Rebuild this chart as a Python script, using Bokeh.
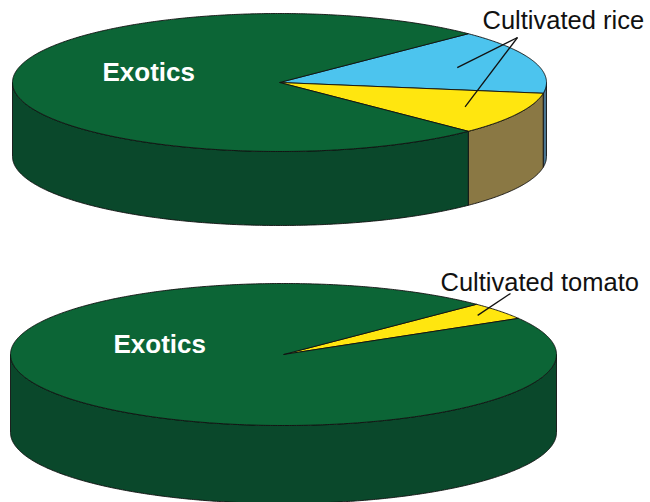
import numpy as np
from bokeh.plotting import figure
from bokeh.models import Range1d
from bokeh.embed import file_html
from bokeh.resources import INLINE
from bokeh.core.properties import value

# ---------------- data ----------------
rice_categories = ["Cultivated rice (A)", "Cultivated rice (B)", "Exotics"]
rice_shares = [15, 10, 75]
rice_top_colors = ["#4cc4ee", "#ffe60f", "#0c6536"]
rice_side_colors = ["#4a7590", "#8a7844", "#0a482b"]

tomato_categories = ["Cultivated tomato", "Exotics"]
tomato_shares = [4, 96]
tomato_top_colors = ["#ffe60f", "#0c6536"]
tomato_side_colors = ["#8a7844", "#0a482b"]

FONT = value("Liberation Sans")

p = figure(width=650, height=502, output_backend="svg", toolbar_location=None,
           x_range=Range1d(0, 650), y_range=Range1d(502, 0), min_border=0)
p.axis.visible = False
p.grid.visible = False
p.outline_line_color = None
p.background_fill_color = "white"


def arc(cx, cy, rx, ry, a_from, a_to, dy=0.0):
    n = max(int(abs(a_to - a_from) * 2) + 2, 3)
    t = np.radians(np.linspace(a_from, a_to, n))
    return list(cx + rx * np.cos(t)), list(cy + dy - ry * np.sin(t))


def draw_pie(shares, tops, sides, cx, cy, rx, ry, depth, start=45.0):
    total = float(sum(shares))
    bounds = []
    a = start
    for s in shares:
        b = a - 360.0 * s / total
        bounds.append((a, b))
        a = b
    # sides (front half only: angles in [-180, 0] mod 360)
    sx, sy, sc = [], [], []
    for (a0, a1), col in zip(bounds, sides):
        for k in range(-2, 2):
            lo, hi = -180 + 360 * k, 0 + 360 * k
            h = min(a0, hi)
            l = max(a1, lo)
            if h > l:
                tx, ty = arc(cx, cy, rx, ry, h, l)
                bx, by = arc(cx, cy, rx, ry, l, h, dy=depth)
                sx.append(tx + bx)
                sy.append(ty + by)
                sc.append(col)
    p.patches(sx, sy, fill_color=sc, line_color="#111111", line_width=0.9)
    # top face
    wx, wy = [], []
    for (a0, a1) in bounds:
        ax_, ay_ = arc(cx, cy, rx, ry, a0, a1)
        wx.append([cx] + ax_)
        wy.append([cy] + ay_)
    p.patches(wx, wy, fill_color=tops, line_color="#111111", line_width=0.9)
    return bounds


def anchor(bounds, i, cx, cy, rx, ry, f):
    m = np.radians((bounds[i][0] + bounds[i][1]) / 2)
    return cx + f * rx * np.cos(m), cy - f * ry * np.sin(m)


# top pie (rice)
c1 = dict(cx=279, cy=82, rx=267, ry=69)
b1 = draw_pie(rice_shares, rice_top_colors, rice_side_colors, depth=74, **c1)
a_blue = anchor(b1, 0, f=0.70, **c1)
a_yel = anchor(b1, 1, f=0.78, **c1)
p.segment(x0=[517, 517], y0=[37, 37], x1=[a_blue[0], a_yel[0]], y1=[a_blue[1], a_yel[1]],
          line_color="#111111", line_width=1.3)
p.text(x=[482], y=[19], text=["Cultivated rice"], text_font=FONT, text_font_size="25.5px",
       text_color="#111111", text_baseline="middle", text_align="left")
p.text(x=[102], y=[71], text=[rice_categories[2]], text_font=FONT, text_font_size="26px",
       text_font_style="bold", text_color="white", text_baseline="middle", text_align="left")

# bottom pie (tomato)
c2 = dict(cx=283, cy=354, rx=273, ry=71)
b2 = draw_pie(tomato_shares, tomato_top_colors, tomato_side_colors, depth=78, **c2)
a_tom = anchor(b2, 0, f=0.90, **c2)
p.segment(x0=[510], y0=[293], x1=[a_tom[0]], y1=[a_tom[1]], line_color="#111111", line_width=1.3)
p.text(x=[440], y=[281], text=[tomato_categories[0]], text_font=FONT, text_font_size="25.5px",
       text_color="#111111", text_baseline="middle", text_align="left")
p.text(x=[113], y=[343], text=[tomato_categories[1]], text_font=FONT, text_font_size="26px",
       text_font_style="bold", text_color="white", text_baseline="middle", text_align="left")

open("out.html", "w").write(file_html(p, INLINE))
